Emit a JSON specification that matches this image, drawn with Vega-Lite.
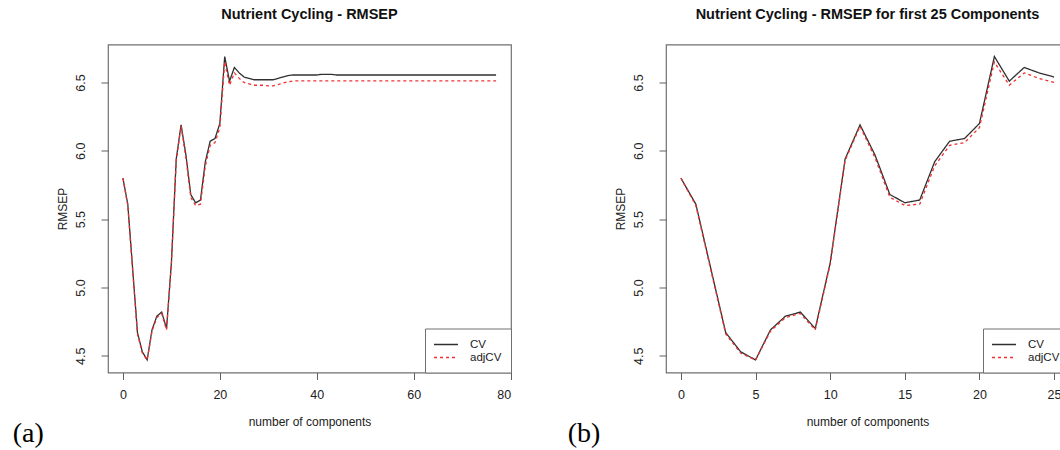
{
  "$schema": "https://vega.github.io/schema/vega-lite/v6.json",
  "background": "white",
  "padding": {"left": 12, "top": 6.5, "right": -10, "bottom": 0},
  "autosize": {"type": "pad"},
  "bounds": "flush",
  "spacing": 155,
  "datasets": {
    "rmsep": [
      {"k": 0, "CV": 5.80, "adjCV": 5.80},
      {"k": 1, "CV": 5.61, "adjCV": 5.60},
      {"k": 2, "CV": 5.14, "adjCV": 5.13},
      {"k": 3, "CV": 4.67, "adjCV": 4.66},
      {"k": 4, "CV": 4.53, "adjCV": 4.52},
      {"k": 5, "CV": 4.47, "adjCV": 4.47},
      {"k": 6, "CV": 4.69, "adjCV": 4.68},
      {"k": 7, "CV": 4.79, "adjCV": 4.78},
      {"k": 8, "CV": 4.82, "adjCV": 4.81},
      {"k": 9, "CV": 4.70, "adjCV": 4.69},
      {"k": 10, "CV": 5.18, "adjCV": 5.17},
      {"k": 11, "CV": 5.94, "adjCV": 5.93},
      {"k": 12, "CV": 6.19, "adjCV": 6.18},
      {"k": 13, "CV": 5.97, "adjCV": 5.95},
      {"k": 14, "CV": 5.68, "adjCV": 5.66},
      {"k": 15, "CV": 5.62, "adjCV": 5.60},
      {"k": 16, "CV": 5.64, "adjCV": 5.61},
      {"k": 17, "CV": 5.92, "adjCV": 5.89},
      {"k": 18, "CV": 6.07, "adjCV": 6.04},
      {"k": 19, "CV": 6.09, "adjCV": 6.06},
      {"k": 20, "CV": 6.20, "adjCV": 6.17},
      {"k": 21, "CV": 6.69, "adjCV": 6.65},
      {"k": 22, "CV": 6.51, "adjCV": 6.48},
      {"k": 23, "CV": 6.61, "adjCV": 6.57},
      {"k": 24, "CV": 6.57, "adjCV": 6.53},
      {"k": 25, "CV": 6.54, "adjCV": 6.50},
      {"k": 26, "CV": 6.53, "adjCV": 6.49},
      {"k": 27, "CV": 6.52, "adjCV": 6.48},
      {"k": 28, "CV": 6.52, "adjCV": 6.48},
      {"k": 29, "CV": 6.52, "adjCV": 6.48},
      {"k": 30, "CV": 6.52, "adjCV": 6.475},
      {"k": 31, "CV": 6.52, "adjCV": 6.475},
      {"k": 32, "CV": 6.53, "adjCV": 6.485},
      {"k": 33, "CV": 6.54, "adjCV": 6.495},
      {"k": 34, "CV": 6.55, "adjCV": 6.505},
      {"k": 35, "CV": 6.555, "adjCV": 6.51},
      {"k": 36, "CV": 6.555, "adjCV": 6.512},
      {"k": 37, "CV": 6.555, "adjCV": 6.512},
      {"k": 38, "CV": 6.555, "adjCV": 6.512},
      {"k": 39, "CV": 6.555, "adjCV": 6.512},
      {"k": 40, "CV": 6.555, "adjCV": 6.512},
      {"k": 41, "CV": 6.56, "adjCV": 6.512},
      {"k": 42, "CV": 6.56, "adjCV": 6.512},
      {"k": 43, "CV": 6.56, "adjCV": 6.512},
      {"k": 44, "CV": 6.555, "adjCV": 6.512},
      {"k": 45, "CV": 6.555, "adjCV": 6.512},
      {"k": 46, "CV": 6.555, "adjCV": 6.512},
      {"k": 47, "CV": 6.555, "adjCV": 6.512},
      {"k": 48, "CV": 6.555, "adjCV": 6.512},
      {"k": 49, "CV": 6.555, "adjCV": 6.512},
      {"k": 50, "CV": 6.555, "adjCV": 6.512},
      {"k": 51, "CV": 6.555, "adjCV": 6.512},
      {"k": 52, "CV": 6.555, "adjCV": 6.512},
      {"k": 53, "CV": 6.555, "adjCV": 6.512},
      {"k": 54, "CV": 6.555, "adjCV": 6.512},
      {"k": 55, "CV": 6.555, "adjCV": 6.512},
      {"k": 56, "CV": 6.555, "adjCV": 6.512},
      {"k": 57, "CV": 6.555, "adjCV": 6.512},
      {"k": 58, "CV": 6.555, "adjCV": 6.512},
      {"k": 59, "CV": 6.555, "adjCV": 6.512},
      {"k": 60, "CV": 6.555, "adjCV": 6.512},
      {"k": 61, "CV": 6.555, "adjCV": 6.512},
      {"k": 62, "CV": 6.555, "adjCV": 6.512},
      {"k": 63, "CV": 6.555, "adjCV": 6.512},
      {"k": 64, "CV": 6.555, "adjCV": 6.512},
      {"k": 65, "CV": 6.555, "adjCV": 6.512},
      {"k": 66, "CV": 6.555, "adjCV": 6.512},
      {"k": 67, "CV": 6.555, "adjCV": 6.512},
      {"k": 68, "CV": 6.555, "adjCV": 6.512},
      {"k": 69, "CV": 6.555, "adjCV": 6.512},
      {"k": 70, "CV": 6.555, "adjCV": 6.512},
      {"k": 71, "CV": 6.555, "adjCV": 6.512},
      {"k": 72, "CV": 6.555, "adjCV": 6.512},
      {"k": 73, "CV": 6.555, "adjCV": 6.512},
      {"k": 74, "CV": 6.555, "adjCV": 6.512},
      {"k": 75, "CV": 6.555, "adjCV": 6.512},
      {"k": 76, "CV": 6.555, "adjCV": 6.512},
      {"k": 77, "CV": 6.555, "adjCV": 6.512}
    ],
    "tags": [
      {"panel": "a", "label": "(a)"},
      {"panel": "b", "label": "(b)"}
    ]
  },
  "config": {
    "font": "Liberation Sans",
    "view": {"stroke": "#707070", "strokeWidth": 1.2},
    "axis": {
      "domain": false,
      "grid": false,
      "tickColor": "#606060",
      "tickSize": 7,
      "tickWidth": 1,
      "labelFont": "Liberation Sans",
      "labelFontSize": 12.5,
      "labelColor": "#222222",
      "titleFont": "Liberation Sans",
      "titleFontSize": 12,
      "titleFontWeight": "normal",
      "titleColor": "#222222"
    },
    "axisX": {"labelPadding": 9, "titlePadding": 15},
    "axisY": {"labelAngle": -90, "labelAlign": "center", "labelBaseline": "bottom", "labelPadding": 13.5, "titlePadding": 5.5},
    "title": {"font": "Liberation Sans", "fontSize": 14.5, "fontWeight": "bold", "anchor": "middle", "frame": "group", "offset": 21.7, "baseline": "bottom", "color": "#111111"},
    "legend": {
      "orient": "bottom-right",
      "offset": 0,
      "title": null,
      "strokeColor": "#707070",
      "fillColor": "white",
      "padding": 9,
      "symbolType": "M-2,0H2",
      "symbolSize": 144,
      "symbolStrokeWidth": 1.3,
      "symbolOffset": 5,
      "labelFont": "Liberation Sans",
      "labelFontSize": 11.5,
      "labelColor": "#222222",
      "labelOffset": 17,
      "labelLimit": 0,
      "rowPadding": 0
    }
  },
  "resolve": {
    "scale": {"x": "independent", "y": "independent"},
    "legend": {"color": "independent", "strokeDash": "independent"}
  },
  "hconcat": [
    {
      "width": 403,
      "height": 328,
      "title": "Nutrient Cycling - RMSEP",
      "layer": [
        {
          "data": {"name": "rmsep"},
          "transform": [{"fold": ["CV", "adjCV"], "as": ["series", "value"]}],
          "mark": {"type": "line", "strokeWidth": 1.3},
          "encoding": {
            "x": {"field": "k", "type": "quantitative", "scale": {"domain": [-3.08, 80.08], "nice": false, "zero": false}, "axis": {"values": [0, 20, 40, 60, 80], "title": "number of components"}},
            "y": {"field": "value", "type": "quantitative", "scale": {"domain": [4.378, 6.778], "nice": false, "zero": false}, "axis": {"values": [4.5, 5, 5.5, 6, 6.5], "format": ".1f", "title": "RMSEP"}},
            "color": {"field": "series", "type": "nominal", "scale": {"domain": ["CV", "adjCV"], "range": ["#303030", "#f03030"]}, "legend": {"title": null}},
            "strokeDash": {"field": "series", "type": "nominal", "scale": {"domain": ["CV", "adjCV"], "range": [[1, 0], [3, 3]]}, "legend": {"title": null}}
          }
        },
        {
          "data": {"name": "tags"},
          "transform": [{"filter": "datum.panel == 'a'"}],
          "mark": {"type": "text", "font": "Liberation Serif", "fontSize": 28, "align": "left", "baseline": "alphabetic", "color": "#000000"},
          "encoding": {
            "x": {"datum": -22.75, "type": "quantitative"},
            "y": {"datum": 3.87, "type": "quantitative"},
            "text": {"field": "label"}
          }
        }
      ]
    },
    {
      "width": 403,
      "height": 328,
      "title": "Nutrient Cycling - RMSEP for first 25 Components",
      "layer": [
        {
          "data": {"name": "rmsep"},
          "transform": [{"filter": "datum.k <= 25"}, {"fold": ["CV", "adjCV"], "as": ["series", "value"]}],
          "mark": {"type": "line", "strokeWidth": 1.3},
          "encoding": {
            "x": {"field": "k", "type": "quantitative", "scale": {"domain": [-1, 26], "nice": false, "zero": false}, "axis": {"values": [0, 5, 10, 15, 20, 25], "title": "number of components"}},
            "y": {"field": "value", "type": "quantitative", "scale": {"domain": [4.378, 6.778], "nice": false, "zero": false}, "axis": {"values": [4.5, 5, 5.5, 6, 6.5], "format": ".1f", "title": "RMSEP"}},
            "color": {"field": "series", "type": "nominal", "scale": {"domain": ["CV", "adjCV"], "range": ["#303030", "#f03030"]}, "legend": {"title": null}},
            "strokeDash": {"field": "series", "type": "nominal", "scale": {"domain": ["CV", "adjCV"], "range": [[1, 0], [3, 3]]}, "legend": {"title": null}}
          }
        },
        {
          "data": {"name": "tags"},
          "transform": [{"filter": "datum.panel == 'b'"}],
          "mark": {"type": "text", "font": "Liberation Serif", "fontSize": 28, "align": "left", "baseline": "alphabetic", "color": "#000000"},
          "encoding": {
            "x": {"datum": -7.59, "type": "quantitative"},
            "y": {"datum": 3.87, "type": "quantitative"},
            "text": {"field": "label"}
          }
        }
      ]
    }
  ]
}
